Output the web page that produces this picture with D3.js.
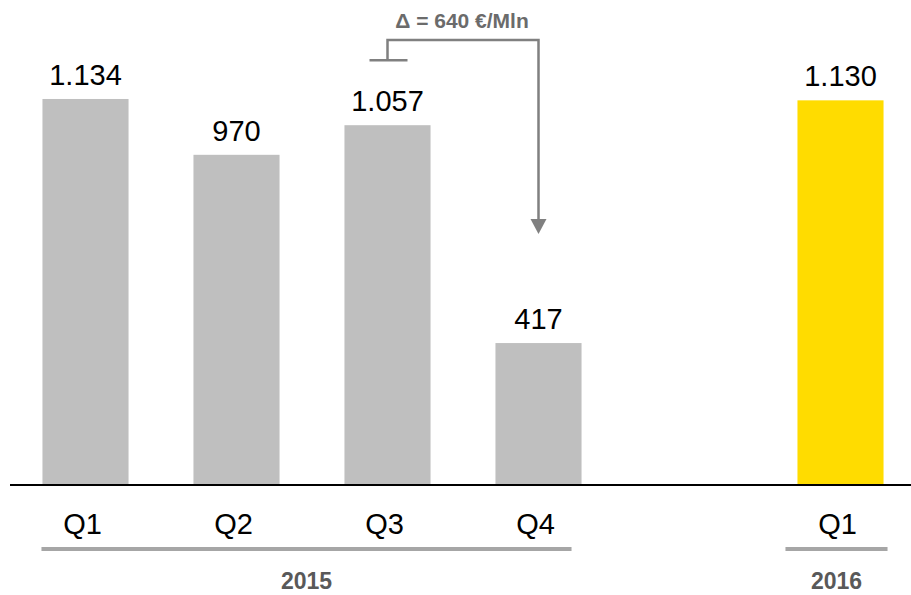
<!DOCTYPE html>
<html>
<head>
<meta charset="utf-8">
<script src="https://cdn.jsdelivr.net/npm/d3@7"></script>
<style>
  html, body { margin: 0; padding: 0; background: #fff; }
  svg { display: block; font-family: Arial, "Liberation Sans", Helvetica, sans-serif; }
</style>
</head>
<body>
<svg id="chart" width="911" height="595"></svg>
<script>
// ---- data ----
const quarters = ["Q1", "Q2", "Q3", "Q4", "Q1"];
const years    = ["2015", "2015", "2015", "2015", "2016"];
const values   = [1134, 970, 1057, 417, 1130];
const valueLabels = ["1.134", "970", "1.057", "417", "1.130"];
const slots    = [0, 1, 2, 3, 5];          // slot 4 is an empty gap
const yearGroups = ["2015", "2016"];
const deltaFrom = 2, deltaTo = 3;          // Q3 2015 -> Q4 2015

// ---- setup ----
const W = 911, H = 595;
const svg = d3.select("#chart");
const baseY = 485;

const x = d3.scaleBand()
  .domain(d3.range(6))
  .range([10, 916])
  .paddingInner(0.43)
  .paddingOuter(0.215);

const y = d3.scaleLinear().domain([0, 1250]).range([baseY, baseY - 1250 * 0.3404]);

const fmt = n => d3.format(",")(n).replace(/,/g, ".");

const data = values.map((v, i) => ({
  v, q: quarters[i], year: years[i], slot: slots[i], label: valueLabels[i] || fmt(v)
}));

// bars
svg.append("g").selectAll("rect").data(data).join("rect")
  .attr("x", d => x(d.slot))
  .attr("y", d => y(d.v))
  .attr("width", x.bandwidth())
  .attr("height", d => y(0) - y(d.v))
  .attr("fill", d => d.year === "2016" ? "#ffdc00" : "#bfbfbf");

// value labels
svg.append("g").selectAll("text").data(data).join("text")
  .attr("x", d => x(d.slot) + x.bandwidth() / 2)
  .attr("y", d => y(d.v) - 14)
  .attr("text-anchor", "middle")
  .attr("font-size", 29)
  .attr("fill", "#000")
  .text(d => d.label);

// baseline
svg.append("line")
  .attr("x1", 10).attr("x2", W)
  .attr("y1", baseY).attr("y2", baseY)
  .attr("stroke", "#000").attr("stroke-width", 2);

// quarter labels
svg.append("g").selectAll("text").data(data).join("text")
  .attr("x", d => x(d.slot) + x.bandwidth() / 2 - 3)
  .attr("y", 534)
  .attr("text-anchor", "middle")
  .attr("font-size", 29)
  .attr("fill", "#000")
  .text(d => d.q);

// year groups: underline + label
const groupPads = { "2015": [-1, -10], "2016": [-12, 4] };
yearGroups.forEach(g => {
  const items = data.filter(d => d.year === g);
  const x0 = x(items[0].slot) + groupPads[g][0];
  const x1 = x(items[items.length - 1].slot) + x.bandwidth() + groupPads[g][1];
  svg.append("line")
    .attr("x1", x0).attr("x2", x1)
    .attr("y1", 549).attr("y2", 549)
    .attr("stroke", "#a6a6a6").attr("stroke-width", 4);
  svg.append("text")
    .attr("x", (x0 + x1) / 2)
    .attr("y", 589)
    .attr("text-anchor", "middle")
    .attr("font-size", 23)
    .attr("font-weight", "bold")
    .attr("fill", "#595959")
    .text(g);
});

// delta annotation
const a = data[deltaFrom], b = data[deltaTo];
const ax = x(a.slot) + x.bandwidth() / 2;
const bx = x(b.slot) + x.bandwidth() / 2;
const topY = 40;
const capY = y(a.v) - 65;
const tipY = y(b.v) - 109;
const annColor = "#808080";
const ann = svg.append("g");
ann.append("path")
  .attr("d", `M${ax},${capY} V${topY} H${bx} V${tipY - 13}`)
  .attr("fill", "none").attr("stroke", annColor).attr("stroke-width", 2.5);
ann.append("line")
  .attr("x1", ax - 18).attr("x2", ax + 20)
  .attr("y1", capY).attr("y2", capY)
  .attr("stroke", annColor).attr("stroke-width", 2.5);
ann.append("path")
  .attr("d", `M${bx - 8},${tipY - 15} L${bx + 8},${tipY - 15} L${bx},${tipY} Z`)
  .attr("fill", annColor);
ann.append("text")
  .attr("x", (ax + bx) / 2 - 1)
  .attr("y", 28)
  .attr("text-anchor", "middle")
  .attr("font-size", 21)
  .attr("font-weight", "bold")
  .attr("fill", "#6b6b6b")
  .text(`Δ = ${a.v - b.v} €/Mln`);
</script>
</body>
</html>
